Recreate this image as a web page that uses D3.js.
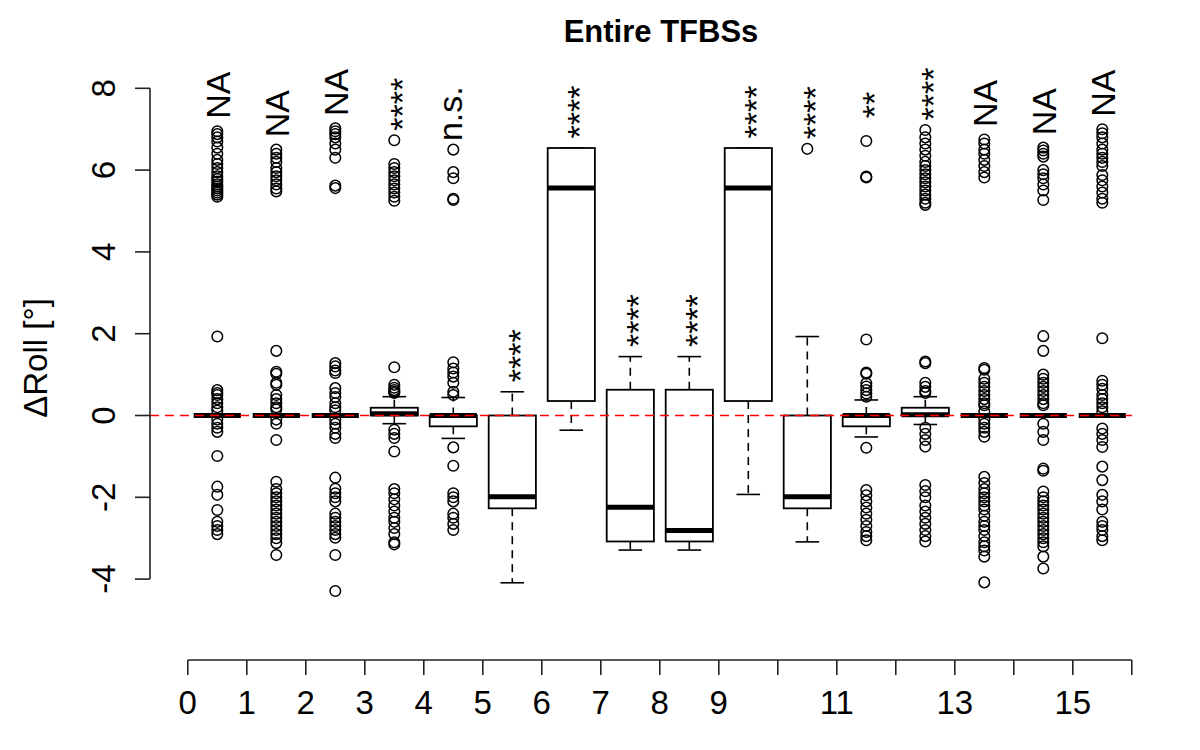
<!DOCTYPE html>
<html><head><meta charset="utf-8">
<script src="https://cdn.jsdelivr.net/npm/d3@7"></script>
<style>body{margin:0;background:#fff;} svg{display:block;font-family:"Liberation Sans",Arial,Helvetica,sans-serif;}</style>
</head><body>
<svg id="chart" width="1200" height="750"></svg>
<script>
// ---- data ----
const groups = d3.range(16);
const q1      = [0,0,0,0,-0.265,-2.27,0.354,-3.08,-3.08,0.354,-2.27,-0.265,0,0,0,0];
const medians = [0,0,0,0.04,0,-1.985,5.565,-2.245,-2.81,5.565,-1.985,0,0.02,0,0,0];
const q3      = [0,0,0,0.19,0,0,6.54,0.63,0.63,6.54,0,0.01,0.19,0,0,0];
const whiskLo = [0,0,0,-0.2,-0.56,-4.09,-0.36,-3.29,-3.29,-1.93,-3.09,-0.525,-0.22,0,0,0];
const whiskHi = [0,0,0,0.46,0.44,0.58,6.54,1.44,1.44,6.54,1.93,0.38,0.46,0,0,0];
const outliers = [
  [6.95,6.88,6.8,6.7,6.55,6.4,6.25,6.15,6.05,5.95,5.85,5.78,5.72,5.65,5.6,5.55,5.5,5.45,5.4,5.35,
   1.93,0.62,0.55,0.5,0.4,0.3,0.2,0.12,-0.1,-0.2,-0.3,-0.4,-0.99,-1.74,-1.94,-2.31,-2.6,-2.7,-2.8,-2.9],
  [6.5,6.4,6.3,6.2,6.05,5.95,5.85,5.75,5.65,5.55,5.48,
   1.58,1.07,1.02,0.8,0.75,0.5,0.4,0.3,0.2,0.15,-0.1,-0.2,-0.6,-1.62,-1.8,-1.9,-2.0,-2.1,-2.2,-2.3,-2.4,-2.5,-2.6,-2.7,-2.8,-2.9,-3.0,-3.12,-3.41],
  [7.02,6.95,6.88,6.8,6.65,6.5,6.3,5.62,5.56,
   1.28,1.2,1.1,1.04,0.67,0.55,0.45,0.3,0.2,0.13,-0.1,-0.2,-0.3,-0.45,-0.55,-1.52,-1.79,-1.9,-2.0,-2.1,-2.4,-2.5,-2.6,-2.7,-2.8,-2.9,-2.99,-3.41,-4.29],
  [6.73,6.15,6.05,5.95,5.85,5.75,5.65,5.55,5.45,5.35,5.25,
   1.18,0.75,0.68,0.62,0.58,0.55,-0.35,-0.45,-0.55,-0.88,-1.8,-1.9,-2.05,-2.2,-2.35,-2.5,-2.6,-2.75,-2.9,-3.1,-3.15],
  [6.5,5.95,5.8,5.3,5.27,
   1.3,1.15,1.05,0.95,0.8,0.58,0.5,-0.78,-1.23,-1.9,-2.0,-2.1,-2.4,-2.5,-2.65,-2.8],
  [],
  [],
  [],
  [],
  [],
  [6.52],
  [6.71,5.84,5.82,1.86,1.05,1.02,0.79,0.71,0.62,0.54,0.46,-0.79,-1.82,-1.95,-2.1,-2.25,-2.4,-2.55,-2.7,-2.85,-2.95,-3.05],
  [6.98,6.8,6.65,6.5,6.35,6.2,6.1,6.0,5.9,5.8,5.7,5.6,5.5,5.4,5.3,5.2,5.15,
   1.32,1.28,0.8,0.7,0.6,0.55,-0.3,-0.45,-0.6,-0.76,-1.7,-1.85,-2.0,-2.2,-2.35,-2.5,-2.65,-2.8,-2.95,-3.08],
  [6.75,6.65,6.5,6.4,6.25,6.1,5.95,5.82,
   1.16,1.12,0.9,0.8,0.7,0.6,0.5,0.4,0.3,0.25,0.1,-0.1,-0.2,-0.3,-0.4,-0.52,-1.5,-1.65,-1.8,-1.9,-2.0,-2.1,-2.2,-2.3,-2.45,-2.6,-2.7,-2.8,-2.95,-3.1,-3.2,-3.3,-3.45,-4.08],
  [6.55,6.48,6.4,6.33,6.0,5.9,5.8,5.65,5.5,5.27,
   1.94,1.58,1.0,0.9,0.8,0.7,0.6,0.5,0.4,0.3,0.25,-0.2,-0.4,-0.6,-1.3,-1.35,-1.86,-2.0,-2.1,-2.2,-2.3,-2.4,-2.5,-2.6,-2.7,-2.8,-2.9,-3.0,-3.1,-3.2,-3.45,-3.74],
  [7.0,6.9,6.8,6.65,6.5,6.4,6.3,6.2,6.1,5.88,5.75,5.6,5.45,5.3,5.2,
   1.89,0.85,0.75,0.65,0.5,0.4,0.3,0.2,0.1,-0.32,-0.45,-0.6,-0.77,-1.25,-1.58,-1.94,-2.1,-2.3,-2.6,-2.7,-2.8,-2.95,-3.05]
];
const sigLabels = ["NA","NA","NA","****","n.s.","****","****","****","****","****","****","**","****","NA","NA","NA"];
const yTicks = [-4,-2,0,2,4,6,8];
const xTicks = d3.range(0,17);
const xTickLabels = [0,1,2,3,4,5,6,7,8,9,11,13,15];
const titleText = "Entire TFBSs";
const yLabelText = "\u0394Roll [\u00b0]";

// ---- scales ----
const svg = d3.select("#chart");
const x = d3.scaleLinear().domain([0,16]).range([187.8,1131.8]);
const y = d3.scaleLinear().domain([-4,8]).range([579.1,88.3]);
const halfW = (x(1)-x(0))*0.4;
const capW = halfW*0.5;
const cx = i => x(i+0.5);

// ---- boxes ----
const g = svg.append("g");
groups.forEach(i => {
  const c = cx(i);
  // whiskers (dashed)
  if (whiskHi[i] > q3[i]) g.append("line").attr("x1",c).attr("x2",c).attr("y1",y(q3[i])).attr("y2",y(whiskHi[i]))
     .attr("stroke","#000").attr("stroke-width",1.6).attr("stroke-dasharray","8,6");
  if (whiskLo[i] < q1[i]) g.append("line").attr("x1",c).attr("x2",c).attr("y1",y(q1[i])).attr("y2",y(whiskLo[i]))
     .attr("stroke","#000").attr("stroke-width",1.6).attr("stroke-dasharray","8,6");
  // caps
  [whiskHi[i], whiskLo[i]].forEach(v => g.append("line").attr("x1",c-capW).attr("x2",c+capW).attr("y1",y(v)).attr("y2",y(v))
     .attr("stroke","#000").attr("stroke-width",1.6));
  // box
  g.append("rect").attr("x",c-halfW).attr("width",2*halfW)
    .attr("y",y(q3[i])).attr("height",Math.max(0,y(q1[i])-y(q3[i])))
    .attr("fill","#fff").attr("stroke","#000").attr("stroke-width",1.8);
  // median
  g.append("line").attr("x1",c-halfW).attr("x2",c+halfW).attr("y1",y(medians[i])).attr("y2",y(medians[i]))
    .attr("stroke","#000").attr("stroke-width",5);
  // outliers
  g.selectAll(null).data(outliers[i]).enter().append("circle")
    .attr("cx",c).attr("cy",d=>y(d)).attr("r",5.3)
    .attr("fill","none").attr("stroke","#000").attr("stroke-width",1.5);
});

// ---- zero reference line ----
svg.append("line").attr("x1",150).attr("x2",1132).attr("y1",y(0)).attr("y2",y(0))
  .attr("stroke","#ff0000").attr("stroke-width",1.5).attr("stroke-dasharray","9,6");

// ---- significance labels ----
groups.forEach(i => {
  const top = Math.max(whiskHi[i], q3[i], d3.max(outliers[i]) ?? -Infinity);
  const lab = sigLabels[i];
  const dy = lab === "NA" ? "0.36em" : (lab === "n.s." ? "0.27em" : "0.58em");
  svg.append("text")
    .attr("transform",`translate(${cx(i)},${y(top+0.88)}) rotate(-90)`)
    .attr("text-anchor","middle").attr("dy",dy)
    .attr("font-size",34).attr("fill","#000").text(lab);
});

// ---- y axis ----
const ya = svg.append("g");
ya.append("line").attr("x1",150).attr("x2",150).attr("y1",y(-4)).attr("y2",y(8)).attr("stroke","#222").attr("stroke-width",1.6);
yTicks.forEach(t => {
  ya.append("line").attr("x1",135).attr("x2",150).attr("y1",y(t)).attr("y2",y(t)).attr("stroke","#222").attr("stroke-width",1.6);
  ya.append("text").attr("transform",`translate(115,${y(t)}) rotate(-90)`).attr("text-anchor","middle")
    .attr("font-size",33).attr("fill","#000").text(t);
});
svg.append("text").attr("transform",`translate(47,358) rotate(-90)`).attr("text-anchor","middle")
  .attr("font-size",33).attr("fill","#000").text(yLabelText);

// ---- x axis ----
const xa = svg.append("g");
xa.append("line").attr("x1",x(0)).attr("x2",x(16)).attr("y1",660).attr("y2",660).attr("stroke","#222").attr("stroke-width",1.6);
xTicks.forEach(t => xa.append("line").attr("x1",x(t)).attr("x2",x(t)).attr("y1",660).attr("y2",675).attr("stroke","#222").attr("stroke-width",1.6));
xTickLabels.forEach(t => xa.append("text").attr("x",x(t)).attr("y",714).attr("text-anchor","middle")
  .attr("font-size",33).attr("fill","#000").text(t));

// ---- title ----
svg.append("text").attr("x",661).attr("y",42).attr("text-anchor","middle")
  .attr("font-size",31).attr("font-weight","bold").attr("fill","#000").text(titleText);
</script>
</body></html>
